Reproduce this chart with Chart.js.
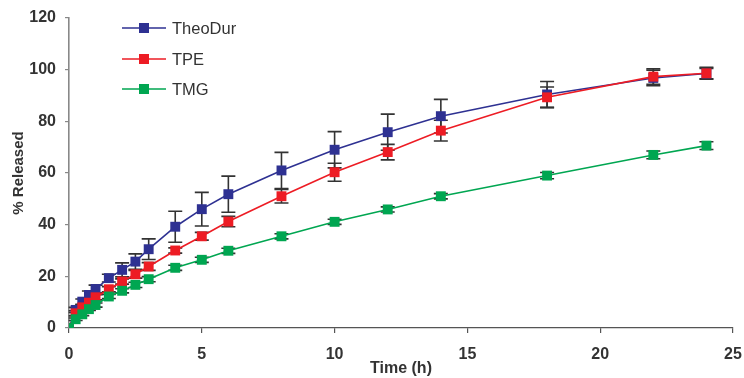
<!DOCTYPE html>
<html>
<head>
<meta charset="utf-8">
<script src="https://cdn.jsdelivr.net/npm/chart.js@4/dist/chart.umd.min.js"></script>
<style>
  html, body { margin: 0; padding: 0; background: #fff; }
  #wrap { width: 744px; height: 378px; position: relative; }
</style>
</head>
<body>
<div id="wrap"><canvas id="c" width="744" height="378"></canvas></div>
<script>
// Sampling times (h)
const times = [0, 0.25, 0.5, 0.75, 1, 1.5, 2, 2.5, 3, 4, 5, 6, 8, 10, 12, 14, 18, 22, 24];

// Cumulative release (%) for each formulation
const theoDur = [0, 7, 10.2, 12.8, 15.1, 19.3, 22.5, 25.7, 30.5, 39.2, 46, 51.8, 61, 69, 75.8, 82, 90.4, 96.8, 98.5];
const tpe     = [0, 5.7, 8, 9.8, 11.9, 15, 18, 20.8, 23.8, 30, 35.5, 41.2, 51, 60.3, 68.1, 76.4, 89.3, 97.3, 98.6];
const tmg     = [0, 3.4, 5.3, 7.3, 8.9, 12.2, 14.4, 16.7, 18.9, 23.3, 26.4, 29.9, 35.5, 41.1, 45.9, 51, 59, 67, 70.6];

// Standard deviations (%)
const theoDurSd = [0, 1, 1, 1.5, 1.5, 1.5, 2.7, 3, 4, 6, 6.5, 7, 7, 7, 7, 6.5, 5, 3, 2];
const tpeSd     = [0, 1, 1, 1, 1, 1, 1, 1.5, 1.5, 1, 1.5, 2, 2.6, 3.5, 3, 4, 4, 3, 2.3];
const tmgSd     = [0, 0.5, 0.5, 0.5, 0.8, 0.8, 0.8, 1, 1, 1, 1, 1, 1, 1, 1, 1, 1.2, 1.5, 1.5];

// Axis ticks
const xTicks = [0, 5, 10, 15, 20, 25];
const yTicks = [0, 20, 40, 60, 80, 100, 120];

const seriesNames = ['TheoDur', 'TPE', 'TMG'];
const seriesColors = ['#2E3192', '#ED1C24', '#00A651'];
const seriesValues = [theoDur, tpe, tmg];
const seriesSd = [theoDurSd, tpeSd, tmgSd];

const FONT = "'Liberation Sans', Arial, sans-serif";

const datasets = seriesNames.map((name, i) => ({
  label: name,
  data: times.map((t, k) => ({ x: t, y: seriesValues[i][k] })),
  sd: seriesSd[i],
  borderColor: seriesColors[i],
  backgroundColor: seriesColors[i],
  borderWidth: 1.6,
  pointStyle: 'rect',
  pointRadius: 7,
  pointBorderWidth: 0,
  tension: 0,
  order: 3 - i
}));

// Error bars with caps, drawn beneath the markers
const errorBars = {
  id: 'errorBars',
  beforeDatasetsDraw(chart) {
    const { ctx, scales: { x, y } } = chart;
    ctx.save();
    ctx.strokeStyle = '#333333';
    ctx.lineWidth = 1.6;
    chart.data.datasets.forEach(ds => {
      ds.data.forEach((p, k) => {
        const sd = ds.sd[k];
        if (!sd) return;
        const px = x.getPixelForValue(p.x);
        const top = y.getPixelForValue(p.y + sd);
        const bot = y.getPixelForValue(p.y - sd);
        const cap = 7;
        ctx.beginPath();
        ctx.moveTo(px, top); ctx.lineTo(px, bot);
        ctx.moveTo(px - cap, top); ctx.lineTo(px + cap, top);
        ctx.moveTo(px - cap, bot); ctx.lineTo(px + cap, bot);
        ctx.stroke();
      });
    });
    ctx.restore();
  }
};

// Legend placed inside the plot, top-left
const innerLegend = {
  id: 'innerLegend',
  afterDraw(chart) {
    const { ctx } = chart;
    ctx.save();
    const x0 = 122, x1 = 166, rows = [28, 59, 89];
    chart.data.datasets.forEach((ds, i) => {
      const yy = rows[i];
      ctx.strokeStyle = ds.borderColor;
      ctx.lineWidth = 1.6;
      ctx.beginPath(); ctx.moveTo(x0, yy); ctx.lineTo(x1, yy); ctx.stroke();
      ctx.fillStyle = ds.backgroundColor;
      ctx.fillRect((x0 + x1) / 2 - 5, yy - 5, 10, 10);
      ctx.fillStyle = '#333333';
      ctx.font = "16.5px 'Liberation Sans', Arial, sans-serif";
      ctx.textBaseline = 'middle';
      ctx.fillText(ds.label, 172, yy + 1);
    });
    ctx.restore();
  }
};

new Chart(document.getElementById('c'), {
  type: 'line',
  data: { datasets },
  options: {
    responsive: false,
    animation: false,
    devicePixelRatio: 1,
    layout: { padding: { top: 18, right: 11, left: 0, bottom: 0 } },
    plugins: { legend: { display: false }, tooltip: { enabled: false } },
    scales: {
      x: {
        type: 'linear',
        min: 0, max: 25,
        afterBuildTicks(s) { s.ticks = xTicks.map(v => ({ value: v })); },
        afterFit(s) { s.height = 50; s.paddingLeft = 0; s.paddingRight = 0; },
        grid: { display: true, drawOnChartArea: false, drawTicks: true, tickLength: 5, color: '#555', lineWidth: 1.2 },
        border: { display: true, color: '#555', width: 1.2 },
        ticks: { color: '#333', font: { family: FONT, size: 16, weight: 'bold' }, padding: 12, maxRotation: 0 },
        title: { display: true, text: 'Time (h)', color: '#333', font: { family: FONT, size: 16, weight: 'bold' }, padding: { top: -6, bottom: 0 } }
      },
      y: {
        type: 'linear',
        min: 0, max: 120,
        afterBuildTicks(s) { s.ticks = yTicks.map(v => ({ value: v })); },
        afterFit(s) { s.width = 69; s.paddingTop = 0; s.paddingBottom = 0; },
        grid: { display: true, drawOnChartArea: false, drawTicks: true, tickLength: 4, color: '#888', lineWidth: 1.2 },
        border: { display: true, color: '#888', width: 1.6 },
        ticks: { color: '#333', font: { family: FONT, size: 16, weight: 'bold' }, padding: 9 },
        title: { display: true, text: '% Released', color: '#333', font: { family: FONT, size: 15, weight: 'bold' }, padding: { top: 10, bottom: 6 } }
      }
    }
  },
  plugins: [errorBars, innerLegend]
});
</script>
</body>
</html>
